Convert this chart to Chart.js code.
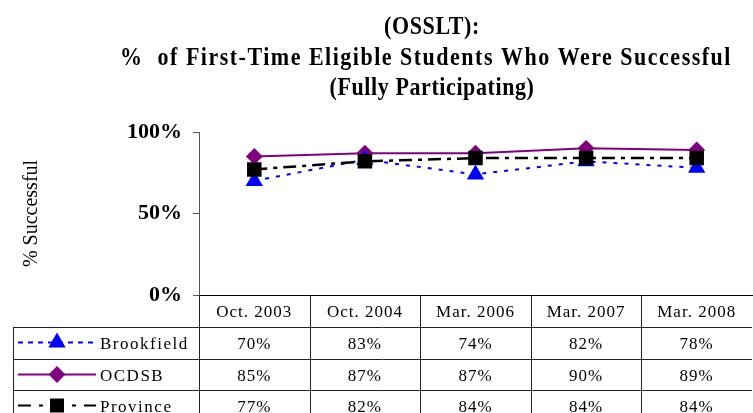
<!DOCTYPE html>
<html>
<head>
<meta charset="utf-8">
<script src="https://cdn.jsdelivr.net/npm/chart.js@4"></script>
<style>
  html, body { margin: 0; padding: 0; background: #fff; overflow: hidden; }
  #wrap { position: relative; width: 753px; height: 413px; }
  canvas { display: block; }
</style>
</head>
<body>
<div id="wrap"><canvas id="osslt"></canvas></div>
<script>
const titleLines = ['(OSSLT):', '%  of First-Time Eligible Students Who Were Successful', '(Fully Participating)'];
const periods = ['Oct. 2003', 'Oct. 2004', 'Mar. 2006', 'Mar. 2007', 'Mar. 2008'];
const brookfield = [70, 83, 74, 82, 78];
const ocdsb = [85, 87, 87, 90, 89];
const province = [77, 82, 84, 84, 84];
const yTicks = [0, 50, 100];

const SERIF = "'Liberation Serif', 'Times New Roman', serif";

// table under the plot: header row (periods) + one row per series
const tablePlugin = {
    id: 'dataTable',
    afterDraw(chart) {
        const ctx = chart.ctx;
        const area = chart.chartArea;
        const x = chart.scales.x;
        const half = (x.getPixelForValue(1) - x.getPixelForValue(0)) / 2;
        const top = area.bottom;
        const rowTops = [top + 32, top + 64, top + 95];
        const rowH = 31;
        const bottom = chart.height;
        const legendLeft = 13;

        ctx.save();
        ctx.strokeStyle = '#222';
        ctx.lineWidth = 1;
        ctx.beginPath();
        rowTops.forEach(y => {
            ctx.moveTo(legendLeft, y + 0.5);
            ctx.lineTo(area.right, y + 0.5);
        });
        for (let i = 0; i < periods.length; i++) {
            const bx = Math.round(x.getPixelForValue(i) - half) + 0.5;
            ctx.moveTo(bx, top);
            ctx.lineTo(bx, bottom);
        }
        ctx.moveTo(legendLeft + 0.5, rowTops[0]);
        ctx.lineTo(legendLeft + 0.5, bottom);
        ctx.stroke();

        ctx.fillStyle = '#000';
        ctx.textAlign = 'center';
        ctx.textBaseline = 'middle';
        ctx.font = '17px ' + SERIF;
        ctx.letterSpacing = '1px';
        periods.forEach((p, i) => {
            ctx.fillText(p, x.getPixelForValue(i), (top + rowTops[0]) / 2 + 2);
        });

        chart.data.datasets.forEach((ds, r) => {
            const cy = rowTops[r] + rowH / 2 + 2;
            ds.data.forEach((v, i) => {
                ctx.fillText(v + '%', x.getPixelForValue(i), cy);
            });
            // legend sample
            ctx.save();
            ctx.strokeStyle = ds.borderColor;
            ctx.lineWidth = 2;
            ctx.setLineDash(ds.legendDash || []);
            ctx.beginPath();
            ctx.moveTo(18, cy - 2);
            ctx.lineTo(96, cy - 2);
            ctx.stroke();
            ctx.setLineDash([]);
            ctx.fillStyle = ds.pointBackgroundColor;
            Chart.helpers.drawPoint(ctx, {
                pointStyle: ds.pointStyle,
                radius: ds.pointRadius,
                rotation: 0,
                borderWidth: 1
            }, 57, cy - 2);
            ctx.restore();
            ctx.textAlign = 'left';
            ctx.letterSpacing = '1.5px';
            ctx.fillText(ds.label, 100, cy);
            ctx.letterSpacing = '1px';
            ctx.textAlign = 'center';
        });
        ctx.restore();
    }
};

// three-line bold title, stretched a little to look like the Excel one
const titlePlugin = {
    id: 'bigTitle',
    afterDraw(chart) {
        const ctx = chart.ctx;
        const spots = [[432, 27, 96], [426, 58, 612], [432, 88, 205]];
        ctx.save();
        ctx.fillStyle = '#000';
        ctx.textAlign = 'center';
        ctx.textBaseline = 'middle';
        ctx.font = 'bold 22px ' + SERIF;
        titleLines.forEach((t, i) => {
            const [cx, cy, w] = spots[i];
            ctx.letterSpacing = '0px';
            const base = ctx.measureText(t).width;
            ctx.letterSpacing = Math.max(0, (w - base) / t.length).toFixed(2) + 'px';
            ctx.save();
            ctx.translate(cx, cy);
            ctx.scale(1, 1.15);
            ctx.fillText(t, 0, 0);
            ctx.restore();
        });
        ctx.restore();
    }
};

new Chart(document.getElementById('osslt'), {
    type: 'line',
    data: {
        labels: periods,
        datasets: [{
            label: 'Brookfield',
            data: brookfield,
            borderColor: '#0000ff',
            backgroundColor: '#0000ff',
            pointBackgroundColor: '#0000ff',
            pointBorderColor: '#0000ff',
            borderWidth: 2,
            borderDash: [4, 7],
            legendDash: [5, 5],
            pointStyle: 'triangle',
            pointRadius: 8,
            order: 1
        }, {
            label: 'OCDSB',
            data: ocdsb,
            borderColor: '#800080',
            backgroundColor: '#800080',
            pointBackgroundColor: '#800080',
            pointBorderColor: '#800080',
            borderWidth: 2,
            pointStyle: 'rectRot',
            pointRadius: 7,
            order: 2
        }, {
            label: 'Province',
            data: province,
            borderColor: '#000000',
            backgroundColor: '#000000',
            pointBackgroundColor: '#000000',
            pointBorderColor: '#000000',
            borderWidth: 2.5,
            borderDash: [13, 6, 4, 6],
            legendDash: [13, 8, 4, 8],
            pointStyle: 'rect',
            pointRadius: 8.5,
            order: 0
        }]
    },
    options: {
        responsive: true,
        maintainAspectRatio: false,
        animation: false,
        layout: { autoPadding: false, padding: { top: 132, right: 1, bottom: 0, left: 0 } },
        plugins: {
            legend: { display: false },
            title: { display: false },
            tooltip: { enabled: false }
        },
        elements: { line: { tension: 0 } },
        scales: {
            x: {
                offset: true,
                grid: { display: false },
                border: { display: true, color: '#000', width: 1 },
                ticks: { display: false },
                afterFit: s => { s.height = 118; }
            },
            y: {
                min: 0,
                max: 100,
                afterBuildTicks: s => { s.ticks = yTicks.map(v => ({ value: v })); },
                grid: { drawOnChartArea: false, tickLength: 6, color: '#555' },
                border: { display: true, color: '#555', width: 1 },
                ticks: {
                    padding: 11,
                    color: '#000',
                    font: { family: SERIF, size: 22, weight: 'bold' },
                    callback: v => v + '%'
                },
                title: {
                    display: true,
                    text: '% Successful',
                    color: '#000',
                    padding: { top: 20, bottom: 0 },
                    font: { family: SERIF, size: 20 }
                },
                afterFit: s => { s.width = 199; }
            }
        }
    },
    plugins: [tablePlugin, titlePlugin]
});
</script>
</body>
</html>
